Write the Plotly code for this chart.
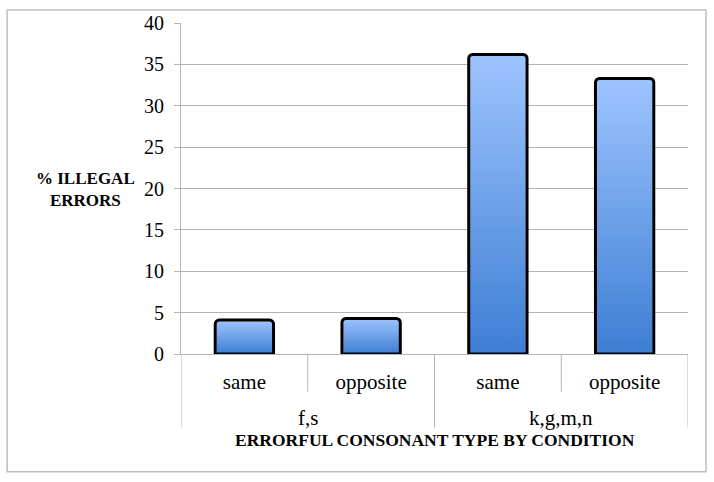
import plotly.graph_objects as go

# Data
groups = ["f,s", "f,s", "k,g,m,n", "k,g,m,n"]
conditions = ["same", "opposite", "same", "opposite"]
illegal_pct = [4.1, 4.3, 36.2, 33.3]

y_ticks = [0, 5, 10, 15, 20, 25, 30, 35, 40]

BAR_W = 0.46
GRID = "#B4B4B4"
SERIF = "Liberation Serif"

pos = list(range(len(conditions)))

fig = go.Figure()

# gradient fill of each bar
for i, v in zip(pos, illegal_pct):
    x0, x1 = i - BAR_W / 2 + 0.01, i + BAR_W / 2 - 0.01
    fig.add_trace(go.Scatter(
        x=[x0, x0, x1, x1, x0], y=[0, v, v, 0, 0],
        mode="lines", line=dict(width=0), fill="toself",
        fillgradient=dict(type="vertical",
                          colorscale=[[0, "#3D7ED3"], [1, "#9EC4FF"]]),
        hoverinfo="skip", showlegend=False, xaxis="x", yaxis="y",
    ))

# rounded black bar outlines, on an overlaid axis so they sit above the fill
fig.add_trace(go.Bar(
    x=pos, y=illegal_pct, width=BAR_W,
    marker=dict(color="rgba(0,0,0,0)", cornerradius=4,
                line=dict(color="black", width=3)),
    showlegend=False, xaxis="x2", yaxis="y",
))

# divider lines under the axis: between conditions (short) and groups (long)
dividers = []
for a, b in zip(pos[:-1], pos[1:]):
    xb = (a + b) / 2
    long = groups[a] != groups[b]
    dividers.append(dict(type="line", xref="x", yref="paper", x0=xb, x1=xb,
                         y0=0, y1=-0.222 if long else -0.114,
                         line=dict(color=GRID, width=1)))
for xb in (pos[0] - 0.5, pos[-1] + 0.5):
    dividers.append(dict(type="line", xref="x", yref="paper", x0=xb, x1=xb,
                         y0=0, y1=-0.222, line=dict(color=GRID, width=1)))

# group labels centred under their conditions
group_notes = []
for g in dict.fromkeys(groups):
    idx = [p for p, gg in zip(pos, groups) if gg == g]
    group_notes.append(dict(text=g, xref="x", yref="paper",
                            x=sum(idx) / len(idx), y=-0.192,
                            xanchor="center", yanchor="middle",
                            showarrow=False, font=dict(family=SERIF, size=21)))

fig.update_layout(
    width=714, height=482,
    paper_bgcolor="white", plot_bgcolor="white",
    margin=dict(l=181, r=26, t=20, b=128),
    font=dict(family=SERIF, size=20, color="black"),
    xaxis=dict(
        range=[-0.5, 3.5], tickvals=pos, ticktext=conditions,
        showline=True, linecolor=GRID, linewidth=1, showgrid=False,
        zeroline=False, ticks="outside", ticklen=9,
        tickcolor="rgba(0,0,0,0)", tickfont=dict(family=SERIF, size=21),
    ),
    xaxis2=dict(overlaying="x", anchor="y", range=[-0.5, 3.5], visible=False),
    yaxis=dict(
        range=[0, 40], tickvals=y_ticks, showline=True, linecolor=GRID,
        ticks="outside", ticklen=6, tickcolor=GRID, ticklabelstandoff=6,
        gridcolor=GRID, gridwidth=1, zeroline=False,
        tickfont=dict(family=SERIF, size=20),
    ),
    annotations=group_notes + [
        dict(text="<b>% ILLEGAL<br>ERRORS</b>", xref="paper", yref="paper",
             x=-0.189, y=0.497, xanchor="center", yanchor="middle",
             showarrow=False, font=dict(family=SERIF, size=17)),
        dict(text="<b>ERRORFUL CONSONANT TYPE BY CONDITION</b>",
             xref="paper", yref="paper", x=0.5, y=-0.26,
             xanchor="center", yanchor="middle", showarrow=False,
             font=dict(family=SERIF, size=17.5)),
    ],
    shapes=dividers + [
        dict(type="rect", xref="paper", yref="paper",
             x0=-0.343, x1=1.0355, y0=-0.356, y1=1.039,
             line=dict(color="#BDBDBD", width=1.5), layer="below"),
    ],
)

fig.write_html("out.html", config={"displayModeBar": False},
               post_script="document.body.style.margin='0';")
